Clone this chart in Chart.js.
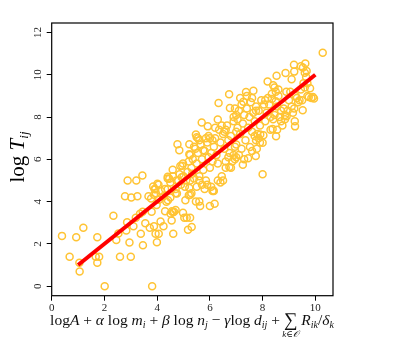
<!DOCTYPE html>
<html lang="en">
<head>
    <meta charset="UTF-8">
    <title>log T_ij scatter</title>
    <style>
        body { margin: 0; background: #fff; }
        #wrap { width: 404px; height: 346px; }
    </style>
</head>
<body>
    <div id="wrap">
        <canvas id="myChart" width="404" height="346"></canvas>
    </div>

    <script src="https://cdn.jsdelivr.net/npm/chart.js"></script>
    <script>
    "use strict"

    // observed points (x = predicted, y = log T_ij)
    const obs_x = [
        0.39, 0.68, 0.93, 1.05, 1.06, 1.20, 1.73, 1.67, 1.80, 1.73, 2.01, 2.34, 2.45, 2.53, 2.59, 2.86,
        2.83, 2.95, 3.00, 3.10, 2.78, 3.02, 3.25, 2.88, 3.21, 3.44, 3.19, 3.35, 3.45, 3.38, 3.46, 3.55,
        3.67, 3.72, 3.79, 3.81, 3.88, 3.94, 3.99, 4.06, 4.13, 4.24, 3.77, 3.85, 3.93, 4.01, 3.88, 3.98,
        4.07, 4.24, 4.30, 4.40, 4.41, 4.46, 4.40, 4.51, 4.55, 4.61, 4.56, 4.64, 4.59, 4.73, 4.75, 4.77,
        4.84, 4.88, 4.93, 4.98, 4.98, 5.03, 5.07, 5.12, 5.17, 5.22, 5.25, 5.22, 5.22, 5.31, 5.26, 5.33,
        5.47, 5.50, 5.47, 5.60, 5.63, 5.69, 5.75, 5.92, 6.00, 6.18, 6.13, 6.30, 6.33, 6.73, 6.76, 6.74,
        7.27, 7.37, 7.65, 7.52, 7.74, 7.78, 8.00, 8.19, 8.53, 8.87, 9.19, 9.20, 9.10, 9.62, 9.67, 9.53,
        10.28, 9.80, 9.70, 9.91, 9.95, 9.52, 9.22, 9.23, 8.91, 8.51, 8.38, 8.50, 8.35, 8.03, 8.00, 7.91,
        // 4..5
        4.30, 4.40, 4.50, 4.60, 4.70, 4.80, 4.85, 4.90, 4.95, 5.00, 4.70, 4.50, 4.35, 4.15, 4.05, 3.90,
        3.95, 4.60, 4.70,
        // 5..6
        5.05, 5.10, 5.15, 5.20, 5.25, 5.30, 5.35, 5.40, 5.45, 5.50, 5.55, 5.60, 5.65, 5.70, 5.75, 5.80,
        5.85, 5.90, 5.95, 6.00, 5.30, 5.50, 5.60, 5.70, 5.25, 5.40, 5.55, 5.60, 5.85, 5.95, 5.20, 5.80,
        5.90, 6.05, 6.10, 6.15,
        // 6..7
        6.05, 6.10, 6.15, 6.20, 6.25, 6.30, 6.35, 6.40, 6.45, 6.50, 6.55, 6.60, 6.65, 6.70, 6.75, 6.80,
        6.85, 6.90, 6.95, 7.00, 6.40, 6.50, 6.30, 6.60, 6.80, 6.70, 6.20, 6.45, 6.55, 6.60, 6.10, 6.00,
        6.90, 6.95, 7.00,
        // 7..8
        7.05, 7.10, 7.15, 7.20, 7.25, 7.30, 7.35, 7.40, 7.45, 7.50, 7.55, 7.60, 7.65, 7.70, 7.75, 7.80,
        7.85, 7.90, 7.95, 7.20, 7.30, 7.10, 7.00, 7.25, 7.45, 7.60, 7.70, 7.75, 7.85, 7.90, 7.40, 7.15,
        7.60, 7.75, 7.00, 7.05, 6.90, 6.95,
        // 8..9
        8.05, 8.10, 8.15, 8.20, 8.30, 8.35, 8.40, 8.45, 8.50, 8.55, 8.60, 8.65, 8.70, 8.75, 8.80, 8.85,
        8.90, 8.95, 8.10, 8.30, 8.45, 8.55, 8.70, 8.85, 8.25, 8.60, 8.40,
        // 9..10
        9.05, 9.10, 9.20, 9.25, 9.30, 9.40, 9.45, 9.50, 9.55, 9.60, 9.70, 9.75, 9.85, 9.00, 9.15, 9.35,
        9.60, 9.65, 9.45
    ]
    const obs_y = [
        2.38, 1.39, 2.31, 1.11, 0.69, 2.76, 2.31, 1.39, 1.39, 1.11, 0.00, 3.33, 2.19, 2.49, 1.39, 3.02,
        2.64, 2.07, 1.39, 2.83, 4.25, 4.20, 4.26, 5.00, 5.00, 5.24, 3.24, 3.43, 3.52, 2.48, 1.94, 2.98,
        4.25, 2.76, 3.52, 0.00, 2.83, 2.48, 2.08, 2.48, 3.06, 2.84, 4.15, 4.72, 4.59, 4.85, 4.33, 3.84,
        4.09, 4.25, 3.55, 4.59, 4.07, 5.08, 5.18, 3.43, 3.11, 2.48, 3.55, 3.52, 5.51, 5.00, 4.39, 6.71,
        6.43, 5.68, 5.15, 3.47, 5.80, 3.24, 4.06, 3.24, 2.67, 4.65, 3.24, 6.71, 6.24, 2.80, 4.33, 5.32,
        7.18, 7.05, 4.01, 4.01, 3.79, 7.74, 6.43, 7.56, 3.79, 3.90, 4.53, 7.88, 8.67, 9.08, 8.43, 5.64,
        8.72, 9.19, 9.24, 6.58, 6.16, 6.50, 5.29, 9.68, 9.95, 10.09, 10.47, 10.15, 9.79, 10.53, 10.18, 10.35,
        11.04, 9.36, 9.00, 8.95, 8.88, 8.32, 7.80, 7.56, 8.04, 7.09, 7.44, 8.75, 8.85, 7.14, 6.79, 7.17,
        // 4..5
        4.60, 5.10, 4.90, 5.20, 4.40, 5.00, 5.30, 4.80, 5.70, 5.20, 4.60, 4.20, 4.00, 4.50, 4.80, 4.60,
        4.40, 3.50, 3.60,
        // 5..6
        4.70, 5.00, 5.40, 5.90, 6.20, 5.60, 6.00, 5.10, 6.50, 5.80, 6.30, 5.20, 6.70, 6.00, 5.50, 6.40,
        5.00, 6.80, 6.10, 5.60, 4.40, 4.70, 5.00, 4.80, 5.00, 6.60, 7.00, 6.90, 7.00, 7.10, 4.30, 4.60,
        4.80, 4.70, 4.50, 4.50,
        // 6..7
        6.30, 5.90, 6.60, 7.00, 6.20, 5.80, 7.40, 6.80, 5.20, 7.20, 6.50, 5.90, 7.60, 6.90, 6.30, 7.10,
        5.90, 7.80, 6.60, 7.30, 4.90, 5.00, 5.00, 5.60, 5.60, 6.10, 7.50, 7.60, 7.30, 7.40, 6.90, 7.00,
        6.20, 6.00, 6.10,
        // 7..8
        7.90, 8.30, 7.20, 8.60, 7.70, 8.10, 6.90, 8.40, 7.50, 8.00, 8.70, 7.30, 8.20, 7.80, 8.50, 7.20,
        8.30, 7.60, 8.80, 6.50, 6.00, 6.20, 6.70, 5.75, 6.05, 6.40, 7.10, 6.90, 7.00, 6.80, 9.00, 8.90,
        8.90, 8.30, 8.10, 7.50, 8.00, 8.40,
        // 8..9
        8.60, 8.80, 8.20, 8.90, 8.00, 9.10, 7.90, 9.40, 9.20, 8.50, 9.30, 8.00, 8.30, 7.60, 8.40, 7.90,
        9.20, 8.30, 7.80, 7.40, 8.10, 7.40, 7.80, 8.10, 8.60, 9.00, 9.50,
        // 9..10
        9.20, 8.50, 8.40, 9.00, 8.90, 8.80, 9.30, 8.80, 9.60, 9.40, 9.60, 8.95, 8.90, 8.80, 8.20, 8.70,
        10.10, 9.90, 10.40
    ]

    // fitted line end points
    const fit_x = [1, 10]
    const fit_y = [1, 10]

    const x_ticks = [0, 2, 4, 6, 8, 10]
    const y_ticks = [0, 2, 4, 6, 8, 10, 12]

    const serif = "'Liberation Serif', 'DejaVu Serif', serif"
    const ctx = document.getElementById('myChart')

    // box around the plot, rotated y tick labels, axis titles
    const decor = {
        id: 'decor',
        afterDraw(chart) {
            const c = chart.ctx
            const a = chart.chartArea
            const ys = chart.scales.y
            c.save()
            c.strokeStyle = '#000'
            c.lineWidth = 1.2
            c.strokeRect(a.left, a.top, a.right - a.left, a.bottom - a.top)

            // y tick labels, rotated
            c.fillStyle = '#222'
            c.font = "11px " + serif
            c.textAlign = 'center'
            c.textBaseline = 'middle'
            y_ticks.forEach(v => {
                const py = ys.getPixelForValue(v)
                c.save()
                c.translate(38, py)
                c.rotate(-Math.PI / 2)
                c.fillText(String(v), 0, 0)
                c.restore()
            })

            // y title: log T_ij
            c.save()
            c.translate(24, 157)
            c.rotate(-Math.PI / 2)
            c.fillStyle = '#000'
            c.textBaseline = 'alphabetic'
            const yparts = [["log ", "", 21, 0], ["T", "italic ", 21, 0], ["ij", "italic ", 13, 4]]
            let w = 0
            yparts.forEach(p => { c.font = p[1] + p[2] + "px " + serif; w += c.measureText(p[0]).width })
            let px = -w / 2
            c.textAlign = 'left'
            yparts.forEach(p => {
                c.font = p[1] + p[2] + "px " + serif
                c.fillText(p[0], px, p[3])
                px += c.measureText(p[0]).width
            })
            c.restore()

            // x title formula
            const parts = [
                ["log", "", 0], ["A", "i", 0], [" + ", "", 0], ["α", "i", 0], [" log ", "", 0],
                ["m", "i", 0], ["i", "i", 1], [" + ", "", 0], ["β", "i", 0], [" log ", "", 0],
                ["n", "i", 0], ["j", "i", 1], [" − ", "", 0], ["γ", "i", 0], ["log ", "", 0],
                ["d", "i", 0], ["ij", "i", 1], [" + ", "", 0], ["∑", "", 2], [" ", "", 0],
                ["R", "i", 0], ["ik", "i", 1], ["/", "", 0], ["δ", "i", 0], ["k", "i", 1]
            ]
            const fontFor = p => (p[1] === "i" ? "italic " : "") + (p[2] === 1 ? 10 : (p[2] === 2 ? 19 : 15.5)) + "px " + serif
            let total = 0
            parts.forEach(p => { c.font = fontFor(p); total += c.measureText(p[0]).width })
            let x = 192 - total / 2
            const base = 325
            c.fillStyle = '#111'
            c.textAlign = 'left'
            c.textBaseline = 'alphabetic'
            parts.forEach(p => {
                c.font = fontFor(p)
                const tw = c.measureText(p[0]).width
                c.fillText(p[0], x, base + (p[2] === 1 ? 3 : (p[2] === 2 ? 1 : 0)))
                if (p[2] === 2) {
                    c.font = "italic 9px " + serif
                    c.textAlign = 'center'
                    c.fillText("k∈𝒪", x + tw / 2, base + 12)
                    c.textAlign = 'left'
                }
                x += tw
            })
            c.restore()
        }
    }

    let graph = new Chart(ctx, {
        type: 'scatter',
        data: {
            datasets: [
                {
                    type: 'line',
                    label: 'fit',
                    data: fit_x.map((v, i) => ({ x: v, y: fit_y[i] })),
                    borderColor: '#ff0000',
                    borderWidth: 4,
                    pointRadius: 0,
                    fill: false,
                    order: 0
                },
                {
                    label: 'obs',
                    data: obs_x.map((v, i) => ({ x: v, y: obs_y[i] })),
                    pointStyle: 'circle',
                    pointRadius: 3.5,
                    borderWidth: 1.5,
                    borderColor: 'rgb(255, 196, 52)',
                    backgroundColor: 'rgba(0,0,0,0)',
                    order: 1
                }
            ]
        },
        options: {
            responsive: false,
            animation: false,
            layout: { padding: { top: 23, right: 71, left: 0, bottom: 0 } },
            plugins: {
                legend: { display: false },
                tooltip: { enabled: false }
            },
            scales: {
                x: {
                    type: 'linear',
                    min: 0,
                    max: 10.67,
                    afterFit: s => { s.height = 50.3 },
                    afterBuildTicks: s => { s.ticks = x_ticks.map(v => ({ value: v })) },
                    border: { display: false },
                    grid: { drawOnChartArea: false, tickLength: 5, color: '#000', tickWidth: 1 },
                    ticks: { color: '#222', font: { family: serif, size: 11 }, padding: 1, maxRotation: 0 }
                },
                y: {
                    type: 'linear',
                    min: -0.45,
                    max: 12.45,
                    afterFit: s => { s.width = 51.7 },
                    afterBuildTicks: s => { s.ticks = y_ticks.map(v => ({ value: v })) },
                    border: { display: false },
                    grid: { drawOnChartArea: false, tickLength: 5, color: '#000', tickWidth: 1 },
                    ticks: { display: false }
                }
            }
        },
        plugins: [decor]
    })
    </script>
</body>
</html>
